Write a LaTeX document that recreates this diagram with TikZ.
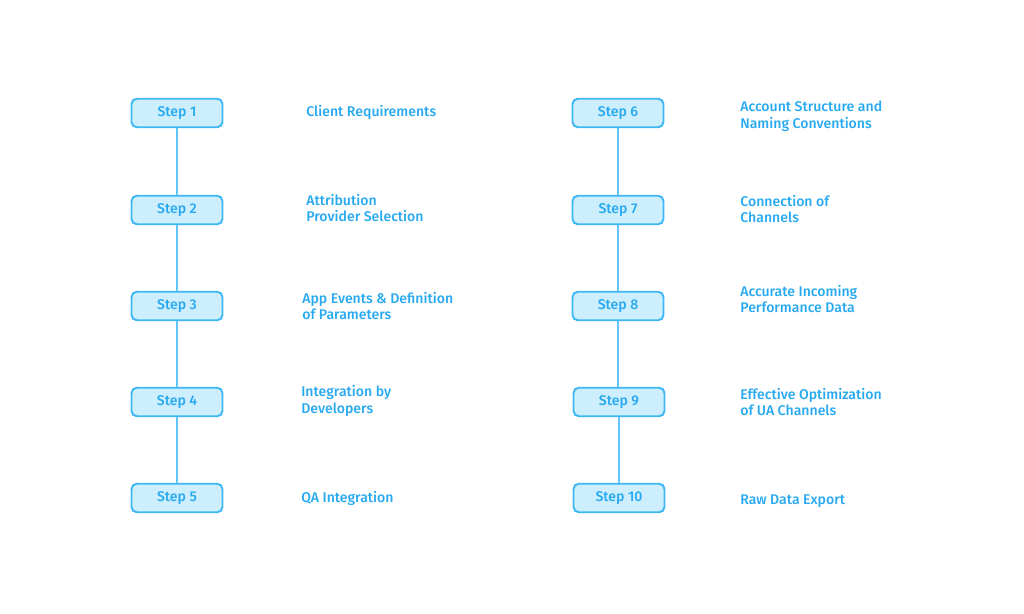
\documentclass[tikz,border=0pt]{standalone}
\usepackage{fontspec}
\setmainfont{Fira Sans}[UprightFont=* Medium, BoldFont=* SemiBold]
\usepackage{tikz}
\usetikzlibrary{positioning}

\definecolor{stepline}{HTML}{3DB8F5}
\definecolor{stepfill}{HTML}{CDEEFD}
\definecolor{steptext}{HTML}{26A9F0}
\definecolor{linkline}{HTML}{5EC6F8}

\tikzset{
  stepbox/.style={draw=stepline, fill=stepfill, line width=1.1pt, rounded corners=3pt,
    minimum width=1.82cm, minimum height=0.57cm, inner sep=0pt,
    text=steptext, font=\fontsize{8}{9.6}\selectfont},
  steplabel/.style={anchor=west, align=left, text=steptext, inner sep=0pt,
    font=\fontsize{8}{9.6}\selectfont},
  steplink/.style={draw=linkline, line width=0.8pt}
}

\begin{document}
\begin{tikzpicture}[x=0.02cm, y=-0.02cm]
        \useasboundingbox (0,0) rectangle (1024,614);

        % left column
        \node[stepbox] (s1) at (177,113) {Step 1};
        \node[stepbox] (s2) at (177,210) {Step 2};
        \node[stepbox] (s3) at (177,306) {Step 3};
        \node[stepbox] (s4) at (177,402) {Step 4};
        \node[stepbox] (s5) at (177,498) {Step 5};

        \node[steplabel] (l1) at (306,112) {Client Requirements};
        \node[steplabel] (l2) at (306,208) {Attribution\\Provider Selection};
        \node[steplabel] (l3) at (302,306) {App Events \& Definition\\of Parameters};
        \node[steplabel] (l4) at (301,401) {Integration by\\Developers};
        \node[steplabel] (l5) at (301,498) {QA Integration};

        % right column
        \node[stepbox] (s6) at (618,113) {Step 6};
        \node[stepbox] (s7) at (618,210) {Step 7};
        \node[stepbox] (s8) at (618,306) {Step 8};
        \node[stepbox] (s9) at (619,402) {Step 9};
        \node[stepbox] (s10) at (619,498) {Step 10};

        \node[steplabel] (l6) at (740,116) {Account Structure and\\Naming Conventions};
        \node[steplabel] (l7) at (740,209) {Connection of\\Channels};
        \node[steplabel] (l8) at (740,299) {Accurate Incoming\\Performance Data};
        \node[steplabel] (l9) at (740,402) {Effective Optimization\\of UA Channels};
        \node[steplabel] (l10) at (740,501) {Raw Data Export};

        \draw[steplink] (s1) -- (s2);
        \draw[steplink] (s2) -- (s3);
        \draw[steplink] (s3) -- (s4);
        \draw[steplink] (s4) -- (s5);
        \draw[steplink] (s6) -- (s7);
        \draw[steplink] (s7) -- (s8);
        \draw[steplink] (s8.south) -- (s8.south |- s9.north);
        \draw[steplink] (s9) -- (s10);
    \end{tikzpicture}
\end{document}
